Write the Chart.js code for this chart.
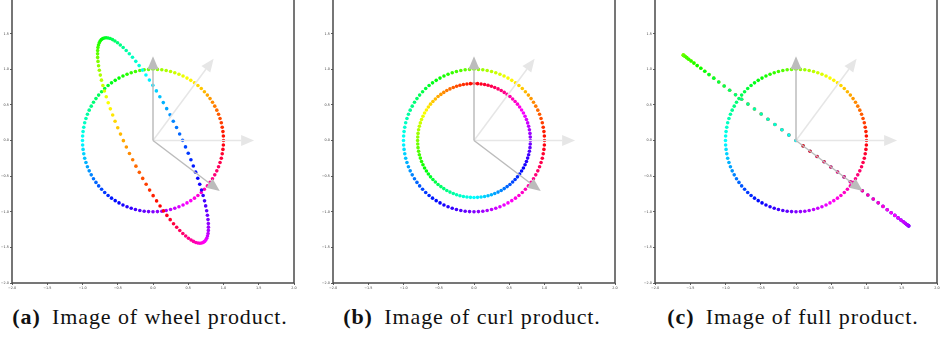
<!DOCTYPE html>
<html lang="en">
<head>
<meta charset="UTF-8">
<title>Wheel, curl and full product</title>
<script src="https://cdn.jsdelivr.net/npm/chart.js"></script>
<style>
  body { margin: 0; width: 940px; height: 337px; overflow: hidden; background: #fff; position: relative; }
  .panel { position: absolute; top: -6px; }
  .cap {
    position: absolute; top: 304px; width: 340px; text-align: center;
    font-family: "Liberation Serif", "Times New Roman", Times, serif; font-size: 22px;
    letter-spacing: 0.9px; color: #111; white-space: nowrap;
  }
  .cap b { margin-right: 5px; }
</style>
</head>
<body>
<div class="panel" style="left:0px"><canvas id="c1" width="298" height="303"></canvas></div>
<div class="panel" style="left:321px"><canvas id="c2" width="298" height="303"></canvas></div>
<div class="panel" style="left:643px"><canvas id="c3" width="298" height="303"></canvas></div>
<div class="cap" style="left:-20px"><b>(a)</b> Image of wheel product.</div>
<div class="cap" style="left:302px"><b>(b)</b> Image of curl product.</div>
<div class="cap" style="left:623px"><b>(c)</b> Image of full product.</div>

<script>
// input samples on the unit circle (100 points)
const circX = [1, .998, .992, .982, .969, .951, .93, .905, .876, .844, .809, .771, .729, .685, .637, .588, .536, .482, .426, .368, .309, .249, .187, .125, .063, 0,
  -.063, -.125, -.187, -.249, -.309, -.368, -.426, -.482, -.536, -.588, -.637, -.685, -.729, -.771, -.809, -.844, -.876, -.905, -.93, -.951, -.969, -.982, -.992, -.998, -1,
  -.998, -.992, -.982, -.969, -.951, -.93, -.905, -.876, -.844, -.809, -.771, -.729, -.685, -.637, -.588, -.536, -.482, -.426, -.368, -.309, -.249, -.187, -.125, -.063, 0,
  .063, .125, .187, .249, .309, .368, .426, .482, .536, .588, .637, .685, .729, .771, .809, .844, .876, .905, .93, .951, .969, .982, .992, .998];
const circY = [0, .063, .125, .187, .249, .309, .368, .426, .482, .536, .588, .637, .685, .729, .771, .809, .844, .876, .905, .93, .951, .969, .982, .992, .998, 1,
  .998, .992, .982, .969, .951, .93, .905, .876, .844, .809, .771, .729, .685, .637, .588, .536, .482, .426, .368, .309, .249, .187, .125, .063, 0,
  -.063, -.125, -.187, -.249, -.309, -.368, -.426, -.482, -.536, -.588, -.637, -.685, -.729, -.771, -.809, -.844, -.876, -.905, -.93, -.951, -.969, -.982, -.992, -.998, -1,
  -.998, -.992, -.982, -.969, -.951, -.93, -.905, -.876, -.844, -.809, -.771, -.729, -.685, -.637, -.588, -.536, -.482, -.426, -.368, -.309, -.249, -.187, -.125, -.063];

// (a) wheel product image
const wheelX = [.1, .051, .002, -.048, -.097, -.146, -.194, -.242, -.288, -.334, -.378, -.42, -.461, -.5, -.538, -.572, -.605, -.635, -.663, -.689, -.711, -.731, -.747, -.761, -.772, -.78,
  -.785, -.786, -.785, -.781, -.773, -.762, -.749, -.732, -.712, -.69, -.665, -.637, -.607, -.574, -.54, -.503, -.464, -.423, -.38, -.336, -.291, -.244, -.197, -.149,
  -.1, -.051, -.002, .048, .097, .146, .194, .242, .288, .334, .378, .42, .461, .5, .538, .572, .605, .635, .663, .689, .711, .731, .747, .761, .772, .78,
  .785, .786, .785, .781, .773, .762, .749, .732, .712, .69, .665, .637, .607, .574, .54, .503, .464, .423, .38, .336, .291, .244, .197, .149];
const wheelY = [-.92, -.848, -.774, -.696, -.615, -.532, -.447, -.36, -.271, -.182, -.092, -.002, .09, .179, .27, .357, .444, .529, .613, .694, .771, .847, .918, .986, 1.05, 1.11,
  1.166, 1.216, 1.262, 1.305, 1.34, 1.371, 1.397, 1.416, 1.43, 1.439, 1.442, 1.439, 1.431, 1.416, 1.397, 1.372, 1.341, 1.306, 1.264, 1.218, 1.168, 1.111, 1.051, .988,
  .92, .848, .774, .696, .615, .532, .447, .36, .271, .182, .092, .002, -.09, -.179, -.27, -.357, -.444, -.529, -.613, -.694, -.771, -.847, -.918, -.986, -1.05, -1.11,
  -1.166, -1.216, -1.262, -1.305, -1.34, -1.371, -1.397, -1.416, -1.43, -1.439, -1.442, -1.439, -1.431, -1.416, -1.397, -1.372, -1.341, -1.306, -1.264, -1.218, -1.168, -1.111, -1.051, -.988];

// (b) curl product image
const curlX = [0, -.05, -.1, -.15, -.199, -.247, -.294, -.341, -.386, -.429, -.47, -.51, -.548, -.583, -.617, -.647, -.675, -.701, -.724, -.744, -.761, -.775, -.786, -.794, -.798, -.8,
  -.798, -.794, -.786, -.775, -.761, -.744, -.724, -.701, -.675, -.647, -.617, -.583, -.548, -.51, -.47, -.429, -.386, -.341, -.294, -.247, -.199, -.15, -.1, -.05, 0,
  .05, .1, .15, .199, .247, .294, .341, .386, .429, .47, .51, .548, .583, .617, .647, .675, .701, .724, .744, .761, .775, .786, .794, .798, .8,
  .798, .794, .786, .775, .761, .744, .724, .701, .675, .647, .617, .583, .548, .51, .47, .429, .386, .341, .294, .247, .199, .15, .1, .05];
const curlY = [.8, .798, .794, .786, .775, .761, .744, .724, .701, .675, .647, .617, .583, .548, .51, .47, .429, .386, .341, .294, .247, .199, .15, .1, .05, 0,
  -.05, -.1, -.15, -.199, -.247, -.294, -.341, -.386, -.429, -.47, -.51, -.548, -.583, -.617, -.647, -.675, -.701, -.724, -.744, -.761, -.775, -.786, -.794, -.798, -.8,
  -.798, -.794, -.786, -.775, -.761, -.744, -.724, -.701, -.675, -.647, -.617, -.583, -.548, -.51, -.47, -.429, -.386, -.341, -.294, -.247, -.199, -.15, -.1, -.05, 0,
  .05, .1, .15, .199, .247, .294, .341, .386, .429, .47, .51, .548, .583, .617, .647, .675, .701, .724, .744, .761, .775, .786, .794, .798];

// (c) full product image
const fullX = [0, -.101, -.2, -.299, -.398, -.494, -.589, -.682, -.771, -.858, -.941, -1.019, -1.096, -1.166, -1.234, -1.294, -1.35, -1.402, -1.448, -1.488, -1.522, -1.55, -1.571, -1.587, -1.597, -1.6,
  -1.597, -1.587, -1.571, -1.55, -1.522, -1.488, -1.448, -1.402, -1.35, -1.294, -1.234, -1.166, -1.096, -1.019, -.941, -.858, -.771, -.682, -.589, -.494, -.398, -.299, -.2, -.101, 0,
  .101, .2, .299, .398, .494, .589, .682, .771, .858, .941, 1.019, 1.096, 1.166, 1.234, 1.294, 1.35, 1.402, 1.448, 1.488, 1.522, 1.55, 1.571, 1.587, 1.597, 1.6,
  1.597, 1.587, 1.571, 1.55, 1.522, 1.488, 1.448, 1.402, 1.35, 1.294, 1.234, 1.166, 1.096, 1.019, .941, .858, .771, .682, .589, .494, .398, .299, .2, .101];
const fullY = [0, .076, .15, .224, .299, .371, .442, .511, .578, .643, .706, .764, .822, .875, .925, .971, 1.013, 1.051, 1.086, 1.116, 1.141, 1.163, 1.178, 1.19, 1.198, 1.2,
  1.198, 1.19, 1.178, 1.163, 1.141, 1.116, 1.086, 1.051, 1.013, .971, .925, .875, .822, .764, .706, .643, .578, .511, .442, .371, .299, .224, .15, .076, 0,
  -.076, -.15, -.224, -.299, -.371, -.442, -.511, -.578, -.643, -.706, -.764, -.822, -.875, -.925, -.971, -1.013, -1.051, -1.086, -1.116, -1.141, -1.163, -1.178, -1.19, -1.198, -1.2,
  -1.198, -1.19, -1.178, -1.163, -1.141, -1.116, -1.086, -1.051, -1.013, -.971, -.925, -.875, -.822, -.764, -.706, -.643, -.578, -.511, -.442, -.371, -.299, -.224, -.15, -.076];

// basis arrows drawn from the origin
const arrowX = [1.25, 0.75, 0, 0.8];
const arrowY = [0, 1.0, 1.0, -0.6];
const arrowColor = ['#e6e6e6', '#e6e6e6', '#bcbcbc', '#bcbcbc'];

const tickVals = [-2, -1.5, -1, -0.5, 0, 0.5, 1, 1.5, 2];
const tickText = ['\u22122.0', '\u22121.5', '\u22121.0', '\u22120.5', '0.0', '0.5', '1.0', '1.5', '2.0'];

// colour of each sample = hue of its angle on the input circle
const hueColors = circX.map((x, i) => {
  const h = (Math.atan2(circY[i], x) * 180 / Math.PI + 360) % 360;
  return `hsl(${h.toFixed(1)}, 100%, 50%)`;
});

function pts(xs, ys) {
  return xs.map((x, i) => ({ x: x, y: ys[i] }));
}

const arrowPlugin = {
  id: 'arrows',
  afterDatasetsDraw(chart) {
    const ctx = chart.ctx;
    const sx = chart.scales.x, sy = chart.scales.y;
    const ox = sx.getPixelForValue(0), oy = sy.getPixelForValue(0);
    ctx.save();
    arrowX.forEach((ax, i) => {
      const ex = sx.getPixelForValue(ax), ey = sy.getPixelForValue(arrowY[i]);
      const len = Math.hypot(ex - ox, ey - oy);
      const ux = (ex - ox) / len, uy = (ey - oy) / len;
      const hl = 13, hw = 5.5;
      ctx.strokeStyle = arrowColor[i];
      ctx.fillStyle = arrowColor[i];
      ctx.lineWidth = 1.5;
      ctx.beginPath();
      ctx.moveTo(ox, oy);
      ctx.lineTo(ex, ey);
      ctx.stroke();
      ctx.beginPath();
      ctx.moveTo(ex + ux * hl, ey + uy * hl);
      ctx.lineTo(ex - uy * hw, ey + ux * hw);
      ctx.lineTo(ex + uy * hw, ey - ux * hw);
      ctx.closePath();
      ctx.fill();
    });
    ctx.restore();
  },
  afterDraw(chart) {
    const a = chart.chartArea, ctx = chart.ctx;
    ctx.save();
    ctx.strokeStyle = '#4a4a4a';
    ctx.lineWidth = 1.5;
    ctx.strokeRect(a.left, a.top, a.right - a.left, a.bottom - a.top);
    ctx.restore();
  }
};

function axis(isX) {
  return {
    type: 'linear',
    min: -2,
    max: 2,
    afterBuildTicks: s => { s.ticks = tickVals.map(v => ({ value: v })); },
    afterFit: s => {
      if (isX) s.height = 14; else s.width = 12;
      s.paddingLeft = 0; s.paddingRight = 0; s.paddingTop = 0; s.paddingBottom = 0;
    },
    ticks: {
      autoSkip: false,
      maxRotation: 0,
      padding: 1,
      color: '#444',
      font: { size: 3.4, family: 'DejaVu Sans' },
      callback: v => tickText[tickVals.indexOf(v)]
    },
    grid: { drawOnChartArea: false, tickLength: 2, color: '#333', lineWidth: 0.8 },
    border: { display: false }
  };
}

function makeChart(id, imgX, imgY) {
  const dot = { pointRadius: 1.8, pointBorderWidth: 0, pointBackgroundColor: hueColors, showLine: false };
  new Chart(document.getElementById(id), {
    type: 'scatter',
    data: {
      datasets: [
        Object.assign({ label: 'image', data: pts(imgX, imgY), order: 0 }, dot),
        Object.assign({ label: 'circle', data: pts(circX, circY), order: 1 }, dot)
      ]
    },
    options: {
      responsive: false,
      animation: false,
      layout: { padding: { top: 0, right: 2, bottom: 0, left: 0 } },
      plugins: { legend: { display: false }, tooltip: { enabled: false } },
      scales: { x: axis(true), y: axis(false) }
    },
    plugins: [arrowPlugin]
  });
}

makeChart('c1', wheelX, wheelY);
makeChart('c2', curlX, curlY);
makeChart('c3', fullX, fullY);
</script>
</body>
</html>
